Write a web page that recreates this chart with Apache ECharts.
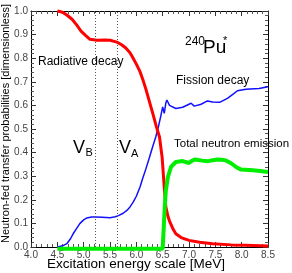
<!DOCTYPE html>
<html><head><meta charset="utf-8">
<script src="https://cdn.jsdelivr.net/npm/echarts@6/dist/echarts.min.js"></script>
<style>html,body{margin:0;padding:0;background:#fff}#c{width:292px;height:273px}</style>
</head><body><div id="c"></div>
<script>
const radiative = [[4.5,1.0],[4.6,0.995],[4.68,0.983],[4.78,0.965],[4.87,0.94],[4.95,0.915],[5.03,0.898],[5.12,0.88],[5.25,0.876],[5.4,0.877],[5.5,0.876],[5.63,0.868],[5.72,0.857],[5.8,0.843],[5.88,0.823],[5.94,0.80],[6.0,0.775],[6.07,0.743],[6.13,0.705],[6.18,0.67],[6.25,0.615],[6.32,0.56],[6.38,0.51],[6.44,0.466],[6.49,0.38],[6.53,0.254],[6.56,0.17],[6.6,0.13],[6.63,0.11],[6.7,0.075],[6.75,0.056],[6.85,0.04],[7.0,0.028],[7.2,0.02],[7.45,0.014],[7.8,0.009],[8.08,0.007],[8.5,0.004]];
const fission = [[4.5,0],[4.6,0.005],[4.68,0.014],[4.75,0.035],[4.8,0.056],[4.87,0.08],[4.93,0.1],[5.0,0.115],[5.06,0.123],[5.15,0.127],[5.22,0.127],[5.35,0.126],[5.5,0.124],[5.6,0.128],[5.66,0.133],[5.75,0.143],[5.82,0.155],[5.88,0.17],[5.94,0.19],[6.0,0.215],[6.07,0.254],[6.12,0.29],[6.18,0.33],[6.25,0.38],[6.31,0.425],[6.37,0.467],[6.42,0.51],[6.46,0.55],[6.5,0.594],[6.53,0.566],[6.56,0.61],[6.58,0.623],[6.63,0.60],[6.75,0.587],[6.88,0.592],[7.04,0.609],[7.1,0.597],[7.23,0.605],[7.35,0.619],[7.45,0.614],[7.58,0.613],[7.73,0.63],[7.85,0.65],[7.92,0.662],[8.08,0.668],[8.33,0.672],[8.5,0.679]];
const neutron = [[4.5,-0.007],[6.5,-0.007],[6.52,0.08],[6.54,0.17],[6.56,0.24],[6.6,0.297],[6.66,0.34],[6.75,0.36],[6.88,0.364],[7.0,0.356],[7.06,0.366],[7.12,0.371],[7.25,0.366],[7.35,0.363],[7.45,0.368],[7.54,0.371],[7.62,0.37],[7.7,0.367],[7.8,0.355],[7.9,0.338],[7.99,0.328],[8.21,0.325],[8.35,0.322],[8.5,0.318]];
const barrierNames = ['B','A'];
const barrierEnergies = [5.22, 5.64];
const xRange = [4.0, 8.5];
const yRange = [0.0, 1.0];

const font = 'Liberation Sans, Arial, Helvetica, sans-serif';
const chart = echarts.init(document.getElementById('c'), null, {renderer:'canvas'});
function baseAxis(extra){
  return Object.assign({
    axisLine:{show:true, onZero:false, lineStyle:{color:'#000', width:1}},
    axisTick:{show:true, inside:true, length:5, lineStyle:{color:'#333'}},
    minorTick:{show:true, splitNumber:5, length:3, lineStyle:{color:'#555'}},
    splitLine:{show:false}
  }, extra);
}
const labelStyle = {color:'#444', fontSize:10, fontFamily:font, formatter:v=>v.toFixed(1)};
const grid = {left:31, right:24, top:11, bottom:26};
const option = {
  animation:false,
  grid: grid,
  xAxis:[
    baseAxis({type:'value', min:xRange[0], max:xRange[1], interval:0.5, position:'bottom',
      axisLabel:Object.assign({margin:3}, labelStyle)}),
    baseAxis({type:'value', min:xRange[0], max:xRange[1], interval:0.5, position:'top', axisLabel:{show:false}})
  ],
  yAxis:[
    baseAxis({type:'value', min:yRange[0], max:yRange[1], interval:0.1, position:'left',
      axisLabel:Object.assign({margin:3}, labelStyle)}),
    baseAxis({type:'value', min:yRange[0], max:yRange[1], interval:0.1, position:'right', axisLabel:{show:false}})
  ],
  series:[
    {type:'line', data:fission, showSymbol:false, symbol:'none', clip:false, z:3,
      lineStyle:{color:'#1010ff', width:1.5},
      markLine:{symbol:['none','none'], silent:true, label:{show:false},
        lineStyle:{type:[1,2], color:'#555', width:1},
        data: barrierEnergies.map(v=>({xAxis:v}))}},
    {type:'line', data:radiative, showSymbol:false, symbol:'none', clip:false, z:4,
      lineStyle:{color:'#ff0000', width:3}},
    {type:'line', data:neutron, showSymbol:false, symbol:'none', clip:false, z:5,
      lineStyle:{color:'#00ee00', width:4}}
  ],
  graphic:[
    {type:'text', x:6, y:123.5, rotation:Math.PI/2, style:{text:'Neutron-fed transfer probabilities [dimensionless]', font:'11px '+font, fill:'#000', align:'center', verticalAlign:'middle'}},
    {type:'text', x:136, y:264, style:{text:'Excitation energy scale [MeV]', font:'13.5px '+font, fill:'#000', align:'center', verticalAlign:'middle'}},
    {type:'text', x:38, y:62, style:{text:'Radiative decay', font:'12px '+font, fill:'#000', align:'left', verticalAlign:'middle'}},
    {type:'text', x:176, y:81, style:{text:'Fission decay', font:'12px '+font, fill:'#000', align:'left', verticalAlign:'middle'}},
    {type:'text', x:174, y:144, style:{text:'Total neutron emission', font:'11.5px '+font, fill:'#000', align:'left', verticalAlign:'middle'}},
    {type:'text', x:185, y:42, style:{text:'240', font:'12px '+font, fill:'#000', align:'left', verticalAlign:'middle'}},
    {type:'text', x:203, y:48, style:{text:'Pu', font:'19px '+font, fill:'#000', align:'left', verticalAlign:'middle'}},
    {type:'text', x:223, y:41, style:{text:'*', font:'11px '+font, fill:'#000', align:'left', verticalAlign:'middle'}},
    {type:'text', x:73, y:148.5, style:{text:'V', font:'18px '+font, fill:'#000', align:'left', verticalAlign:'middle'}},
    {type:'text', x:85.5, y:153, style:{text:barrierNames[0], font:'11px '+font, fill:'#000', align:'left', verticalAlign:'middle'}},
    {type:'text', x:119, y:148.5, style:{text:'V', font:'18px '+font, fill:'#000', align:'left', verticalAlign:'middle'}},
    {type:'text', x:131, y:154, style:{text:barrierNames[1], font:'11px '+font, fill:'#000', align:'left', verticalAlign:'middle'}}
  ]
};
chart.setOption(option);
</script></body></html>
